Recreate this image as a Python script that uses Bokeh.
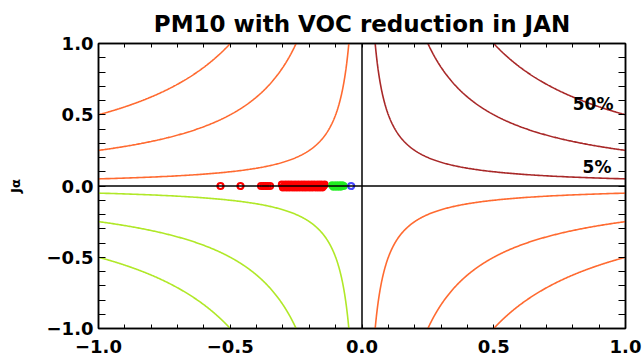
import numpy as np
from bokeh.plotting import figure
from bokeh.models import Range1d, FixedTicker, LinearAxis, Span, Label
from bokeh.embed import file_html
from bokeh.resources import INLINE

# ---------------- data ----------------
title_text = "PM10 with VOC reduction in JAN"
y_label = "Jα"
major_ticks = [-1.0, -0.5, 0.0, 0.5, 1.0]
tick_labels = ["−1.0", "−0.5", "0.0", "0.5", "1.0"]
minor_ticks = [-0.9, -0.8, -0.7, -0.6, -0.4, -0.3, -0.2, -0.1,
               0.1, 0.2, 0.3, 0.4, 0.6, 0.7, 0.8, 0.9]

# contour levels |x*y| drawn in each quadrant
levels = [0.05, 0.25, 0.5]
quad_sign_x = [1, -1, 1, -1]
quad_sign_y = [1, 1, -1, -1]
quad_colors = ["#a82828", "#ff6a30", "#ff6a30", "#b0e828"]

contour_labels = ["50%", "5%"]
contour_label_x = [0.877, 0.892]
contour_label_y = [0.572, 0.13]

red_x = [-0.537, -0.461, -0.383, -0.374, -0.366, -0.358, -0.349,
         -0.304, -0.300, -0.296, -0.291, -0.287, -0.283, -0.279, -0.275,
         -0.271, -0.267, -0.262, -0.258, -0.254, -0.250, -0.246, -0.242,
         -0.238, -0.233, -0.229, -0.225, -0.221, -0.217, -0.213, -0.209,
         -0.204, -0.200, -0.196, -0.192, -0.188, -0.184, -0.180, -0.175,
         -0.171, -0.167, -0.163, -0.159, -0.155, -0.151, -0.146, -0.142]
red_y = [0.0, 0.0, 0.0, 0.0, 0.0, 0.0, 0.0,
         0.01, -0.01, 0.0, 0.01, -0.01, 0.0, 0.01, -0.01,
         0.0, 0.01, -0.01, 0.0, 0.01, -0.01, 0.0, 0.01,
         -0.01, 0.0, 0.01, -0.01, 0.0, 0.01, -0.01, 0.0,
         0.01, -0.01, 0.0, 0.01, -0.01, 0.0, 0.01, -0.01,
         0.0, 0.01, -0.01, 0.0, 0.01, -0.01, 0.0, 0.01]
green_x = [-0.113, -0.108, -0.104, -0.099, -0.095, -0.090, -0.086,
           -0.082, -0.078, -0.074, -0.070]
green_y = [0.005, -0.005, 0.0, 0.005, -0.005, 0.0, 0.005,
           -0.005, 0.0, 0.005, 0.0]
blue_x = [-0.041]
blue_y = [0.0]

# ---------------- figure ----------------
FONT = "DejaVu Sans"
p = figure(width=643, height=359, output_backend="svg", toolbar_location=None,
           x_range=Range1d(-1, 1), y_range=Range1d(-1, 1),
           min_border_left=98, min_border_right=18, min_border_top=43,
           min_border_bottom=31, title=title_text)
p.background_fill_color = "white"
p.border_fill_color = "white"
p.grid.visible = False
p.outline_line_color = "black"
p.outline_line_width = 1.5

p.title.align = "center"
p.title.text_font = FONT
p.title.text_font_size = "23px"
p.title.text_font_style = "bold"
p.title.text_color = "black"
p.title.standoff = 14

overrides = {t: l for t, l in zip(major_ticks, tick_labels)}

for ax, L in ((p.xaxis[0], 4), (p.yaxis[0], 7)):
    ax.ticker = FixedTicker(ticks=major_ticks, minor_ticks=minor_ticks)
    ax.major_label_overrides = overrides
    ax.major_tick_in = L
    ax.major_tick_out = 0
    ax.minor_tick_in = L
    ax.minor_tick_out = 0
    ax.axis_line_color = "black"
    ax.axis_line_width = 1.5
    ax.major_tick_line_color = "black"
    ax.minor_tick_line_color = "black"
    ax.major_label_text_font = FONT
    ax.major_label_text_font_size = "18px"
    ax.major_label_text_font_style = "bold"
    ax.major_label_text_color = "black"

p.xaxis[0].major_label_standoff = 11
p.yaxis[0].major_label_standoff = 5
p.yaxis[0].axis_label = y_label
p.yaxis[0].axis_label_text_font = FONT
p.yaxis[0].axis_label_text_font_size = "13px"
p.yaxis[0].axis_label_text_font_style = "bold"
p.yaxis[0].axis_label_text_color = "black"
p.yaxis[0].axis_label_standoff = 21

all_minor = sorted(minor_ticks + major_ticks)
for loc, L in (("right", 7), ("above", 4)):
    ax = LinearAxis(ticker=FixedTicker(ticks=[], minor_ticks=all_minor))
    ax.major_tick_in = 0
    ax.major_tick_out = 0
    ax.minor_tick_in = L
    ax.minor_tick_out = 0
    ax.axis_line_color = "black"
    ax.axis_line_width = 1.5
    ax.minor_tick_line_color = "black"
    p.add_layout(ax, loc)

# contour curves
for sx, sy, col in zip(quad_sign_x, quad_sign_y, quad_colors):
    xs, ys = [], []
    for c in levels:
        yy = np.geomspace(c, 1.0, 300)
        xs.append(list(sx * c / yy))
        ys.append(list(sy * yy))
    p.multi_line(xs, ys, line_color=col, line_width=1.6)

# zero lines
p.add_layout(Span(location=0, dimension="height", line_color="black", line_width=1.5))
p.add_layout(Span(location=0, dimension="width", line_color="black", line_width=1.5))

# contour labels
for t, x, y in zip(contour_labels, contour_label_x, contour_label_y):
    p.add_layout(Label(x=x, y=y, text=t, text_align="center", text_baseline="middle",
                       text_font=FONT, text_font_size="17px", text_font_style="bold",
                       text_color="black"))

# points
p.scatter(red_x, red_y, marker="circle", size=6, fill_color=None,
          line_color="#ff0000", line_width=2.2)
p.scatter(green_x, green_y, marker="circle", size=6, fill_color=None,
          line_color="#22ee22", line_width=2.2)
p.scatter(blue_x, blue_y, marker="circle", size=6, fill_color=None,
          line_color="#4848ff", line_width=2.2)

open("out.html", "w").write(file_html(p, INLINE))
